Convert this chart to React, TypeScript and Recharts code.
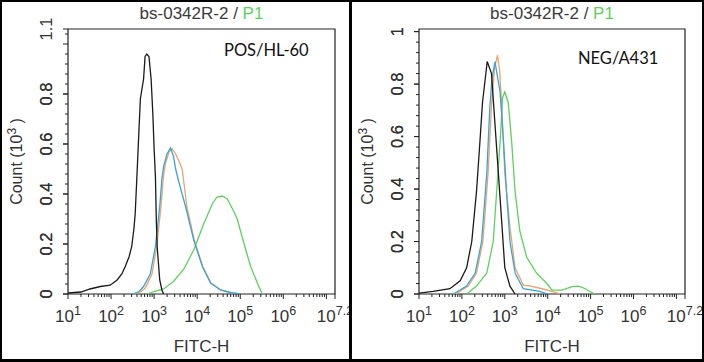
import { LineChart, Line, XAxis, YAxis, ReferenceArea, Label } from "recharts"

// x values are log10(FITC-H), y values are counts in thousands
const xMajor = [1, 2, 3, 4, 5, 6, 7.2]
const xExponents = ["1", "2", "3", "4", "5", "6", "7.2"]
const minorMultipliers = [2, 3, 4, 5, 6, 7, 8, 9]
const decades = [1, 2, 3, 4, 5, 6]

const posYMajor = [0, 0.2, 0.4, 0.6, 0.8, 1.06]
const posYLabels = ["0", "0.2", "0.4", "0.6", "0.8", "1.1"]
const negYMajor = [0, 0.2, 0.4, 0.6, 0.8, 1]
const negYLabels = ["0", "0.2", "0.4", "0.6", "0.8", "1"]

const posBlack: [number, number][] = [
  [1.0, 0.004], [1.3, 0.008], [1.51, 0.02], [1.75, 0.03], [1.98, 0.035], [2.14, 0.056],
  [2.25, 0.08], [2.33, 0.11], [2.42, 0.15], [2.48, 0.19], [2.53, 0.26], [2.56, 0.32],
  [2.6, 0.47], [2.68, 0.78], [2.755, 0.86], [2.79, 0.95], [2.83, 0.96], [2.88, 0.95],
  [2.93, 0.86], [2.97, 0.72], [3.0, 0.58], [3.03, 0.47], [3.05, 0.3], [3.07, 0.19],
  [3.13, 0.056], [3.18, 0.016], [3.22, 0],
]
const posOrange: [number, number][] = [
  [2.55, 0], [2.7, 0.01], [2.8, 0.025], [2.95, 0.08], [3.06, 0.19], [3.16, 0.35],
  [3.21, 0.46], [3.26, 0.52], [3.35, 0.57], [3.42, 0.58], [3.5, 0.56], [3.58, 0.53],
  [3.65, 0.5], [3.68, 0.46], [3.76, 0.35], [3.93, 0.216], [4.13, 0.11], [4.32, 0.044],
  [4.55, 0.016], [4.8, 0.005], [5.0, 0],
]
const posBlue: [number, number][] = [
  [2.5, 0], [2.65, 0.01], [2.755, 0.03], [2.91, 0.08], [3.03, 0.19], [3.13, 0.35],
  [3.18, 0.46], [3.22, 0.51], [3.3, 0.56], [3.38, 0.585], [3.45, 0.55], [3.5, 0.5],
  [3.57, 0.45], [3.73, 0.35], [3.92, 0.216], [4.12, 0.11], [4.31, 0.044], [4.54, 0.016],
  [4.78, 0.005], [5.0, 0],
]
const posGreen: [number, number][] = [
  [2.83, 0], [3.0, 0.01], [3.22, 0.02], [3.45, 0.05], [3.69, 0.1], [3.92, 0.176],
  [4.15, 0.28], [4.35, 0.36], [4.46, 0.388], [4.58, 0.392], [4.7, 0.38], [4.85, 0.33],
  [4.93, 0.3], [5.09, 0.2], [5.24, 0.11], [5.4, 0.043], [5.51, 0],
]

const negBlack: [number, number][] = [
  [1.0, 0.003], [1.33, 0.01], [1.72, 0.02], [1.96, 0.05], [2.11, 0.1], [2.23, 0.2],
  [2.34, 0.39], [2.42, 0.58], [2.48, 0.73], [2.59, 0.886], [2.69, 0.84], [2.77, 0.65],
  [2.85, 0.46], [2.93, 0.27], [3.0, 0.1], [3.12, 0.03], [3.24, 0],
]
const negOrange: [number, number][] = [
  [1.85, 0], [2.15, 0.03], [2.34, 0.08], [2.49, 0.2], [2.61, 0.46], [2.69, 0.72],
  [2.76, 0.86], [2.83, 0.91], [2.88, 0.85], [2.93, 0.71], [3.0, 0.46], [3.12, 0.255],
  [3.24, 0.1], [3.43, 0.034], [3.6, 0.03], [3.87, 0.02], [4.1, 0.01], [4.3, 0],
]
const negBlue: [number, number][] = [
  [1.8, 0], [2.11, 0.03], [2.31, 0.08], [2.46, 0.2], [2.58, 0.46], [2.65, 0.71],
  [2.7, 0.82], [2.77, 0.886], [2.89, 0.77], [2.97, 0.58], [3.04, 0.39], [3.12, 0.2],
  [3.24, 0.08], [3.43, 0.02], [3.82, 0.01], [4.0, 0],
]
const negGreen: [number, number][] = [
  [2.11, 0], [2.34, 0.03], [2.58, 0.08], [2.73, 0.2], [2.81, 0.39], [2.89, 0.58],
  [2.95, 0.75], [3.0, 0.77], [3.08, 0.73], [3.16, 0.58], [3.24, 0.39], [3.35, 0.24],
  [3.51, 0.14], [3.74, 0.08], [3.98, 0.04], [4.1, 0.015], [4.33, 0.015], [4.57, 0.028],
  [4.72, 0.03], [4.88, 0.02], [5.03, 0.005], [5.1, 0],
]

const colors = { black: "#1a1a1a", orange: "#eba46e", blue: "#3ba3d4", green: "#5fd05f" }
const axisFont = "'Liberation Sans', Arial, sans-serif"

const toPoints = (pairs: [number, number][]) => pairs.map(([log, count]) => ({ log, count }))

const xTicks = [
  ...xMajor,
  7,
  ...decades.flatMap((d) => minorMultipliers.map((m) => d + Math.log10(m))),
].sort((a, b) => a - b)

function XTick(props: any) {
  const { x, y, payload } = props
  const v = payload.value
  const idx = xMajor.findIndex((m) => Math.abs(m - v) < 1e-6)
  const isMajor = idx >= 0 || Math.abs(v - 7) < 1e-6
  return (
    <g>
      <line x1={x} x2={x} y1={y} y2={y + (isMajor ? 5 : 3)} stroke="#222" />
      {idx >= 0 && (
        <text x={x} y={y + 28} textAnchor="middle" fontSize={17} fill="#333" fontFamily={axisFont}>
          <tspan>10</tspan>
          <tspan dy={-7} fontSize={12.5}>
            {xExponents[idx]}
          </tspan>
        </text>
      )}
    </g>
  )
}

interface PanelProps {
  left: number
  plotLeft: number
  plotRight: number
  yMax: number
  yMajor: number[]
  yLabels: string[]
  tag: string
  tagLeft: number
  tagTop: number
  series: { data: [number, number][]; color: string }[]
}

function Panel({ left, plotLeft, plotRight, yMax, yMajor, yLabels, tag, tagLeft, tagTop, series }: PanelProps) {
  const width = 352
  const height = 362
  const yMinorCount = Math.round(yMax / 0.04)
  const yTicks = [...yMajor, ...Array.from({ length: yMinorCount + 1 }, (_, i) => +(i * 0.04).toFixed(2))]
    .filter((v) => v <= yMax + 1e-6)
    .sort((a, b) => a - b)

  const YTick = (props: any) => {
    const { x, y, payload } = props
    const idx = yMajor.findIndex((m) => Math.abs(m - payload.value) < 1e-6)
    const rem = payload.value % 0.2
    const major = idx >= 0 || rem < 1e-6 || Math.abs(rem - 0.2) < 1e-6
    const tx = x - 16
    return (
      <g>
        <line x1={x} x2={x - (major ? 5 : 3)} y1={y} y2={y} stroke="#222" />
        {idx >= 0 && (
          <text
            x={tx}
            y={y}
            transform={`rotate(-90, ${tx}, ${y})`}
            textAnchor="middle"
            fontSize={16.5}
            fill="#333"
            fontFamily={axisFont}
          >
            {yLabels[idx]}
          </text>
        )}
      </g>
    )
  }

  return (
    <div style={{ position: "absolute", left, top: 0, width, height }}>
      <div
        style={{
          position: "absolute",
          top: 4,
          left: plotLeft,
          width: plotRight - plotLeft,
          textAlign: "center",
          fontFamily: axisFont,
          fontSize: 17,
          lineHeight: "20px",
          color: "#3a3a3a",
          whiteSpace: "nowrap",
        }}
      >
        bs-0342R-2 / <span style={{ color: "#5fd05f" }}>P1</span>
      </div>
      <div
        style={{
          position: "absolute",
          top: tagTop,
          left: tagLeft,
          fontFamily: "Lato, 'Open Sans', sans-serif",
          fontSize: 16.5,
          lineHeight: "20px",
          color: "#111",
          whiteSpace: "nowrap",
        }}
      >
        {tag}
      </div>
      <LineChart
        width={width}
        height={height}
        margin={{ top: 29, right: width - plotRight, bottom: 8, left: plotLeft - 60 }}
      >
        <XAxis
          dataKey="log"
          type="number"
          domain={[1, 7.2]}
          ticks={xTicks}
          interval={0}
          allowDataOverflow
          axisLine={false}
          tickLine={false}
          tickSize={0}
          tickMargin={0}
          tick={<XTick />}
          height={60}
        >
          <Label
            content={(p: any) => {
              const vb = p.viewBox
              return (
                <text
                  x={vb.x + vb.width / 2}
                  y={vb.y + 58}
                  textAnchor="middle"
                  fontSize={17}
                  fill="#333"
                  fontFamily={axisFont}
                >
                  FITC-H
                </text>
              )
            }}
          />
        </XAxis>
        <YAxis
          type="number"
          domain={[0, yMax]}
          ticks={yTicks}
          interval={0}
          allowDataOverflow
          axisLine={false}
          tickLine={false}
          tickSize={0}
          tickMargin={0}
          tick={<YTick />}
          width={60}
        >
          <Label
            content={(p: any) => {
              const vb = p.viewBox
              const tx = vb.x + vb.width - 46
              const ty = vb.y + vb.height / 2
              return (
                <text
                  x={tx}
                  y={ty}
                  transform={`rotate(-90, ${tx}, ${ty})`}
                  textAnchor="middle"
                  fontSize={16}
                  fill="#333"
                  fontFamily={axisFont}
                >
                  <tspan>Count (10</tspan>
                  <tspan dy={-6} fontSize={12}>
                    3
                  </tspan>
                  <tspan dy={6}> )</tspan>
                </text>
              )
            }}
          />
        </YAxis>
        <ReferenceArea x1={1} x2={7.2} y1={0} y2={yMax} fill="none" stroke="#222" strokeWidth={1.2} ifOverflow="visible" />
        {series.map((s, i) => (
          <Line
            key={i}
            data={toPoints(s.data)}
            dataKey="count"
            type="linear"
            stroke={s.color}
            strokeWidth={1.3}
            dot={false}
            activeDot={false}
            isAnimationActive={false}
          />
        ))}
      </LineChart>
    </div>
  )
}

export default function App() {
  return (
    <div
      style={{
        position: "absolute",
        left: 0,
        top: 0,
        width: 704,
        height: 362,
        background: "#fff",
        overflow: "hidden",
      }}
    >
      <Panel
        left={0}
        plotLeft={68}
        plotRight={335}
        yMax={1.06}
        yMajor={posYMajor}
        yLabels={posYLabels}
        tag="POS/HL-60"
        tagLeft={224}
        tagTop={40}
        series={[
          { data: posGreen, color: colors.green },
          { data: posOrange, color: colors.orange },
          { data: posBlue, color: colors.blue },
          { data: posBlack, color: colors.black },
        ]}
      />
      <Panel
        left={352}
        plotLeft={67}
        plotRight={333}
        yMax={1.01}
        yMajor={negYMajor}
        yLabels={negYLabels}
        tag="NEG/A431"
        tagLeft={226}
        tagTop={48}
        series={[
          { data: negOrange, color: colors.orange },
          { data: negGreen, color: colors.green },
          { data: negBlue, color: colors.blue },
          { data: negBlack, color: colors.black },
        ]}
      />
      <div
        style={{
          position: "absolute",
          left: 0,
          top: 0,
          width: 704,
          height: 362,
          boxSizing: "border-box",
          borderTop: "2px solid #000",
          borderLeft: "2px solid #000",
          borderRight: "2px solid #000",
          borderBottom: "3px solid #000",
          pointerEvents: "none",
        }}
      />
      <div style={{ position: "absolute", left: 349, top: 0, width: 3, height: 362, background: "#000" }} />
    </div>
  )
}
